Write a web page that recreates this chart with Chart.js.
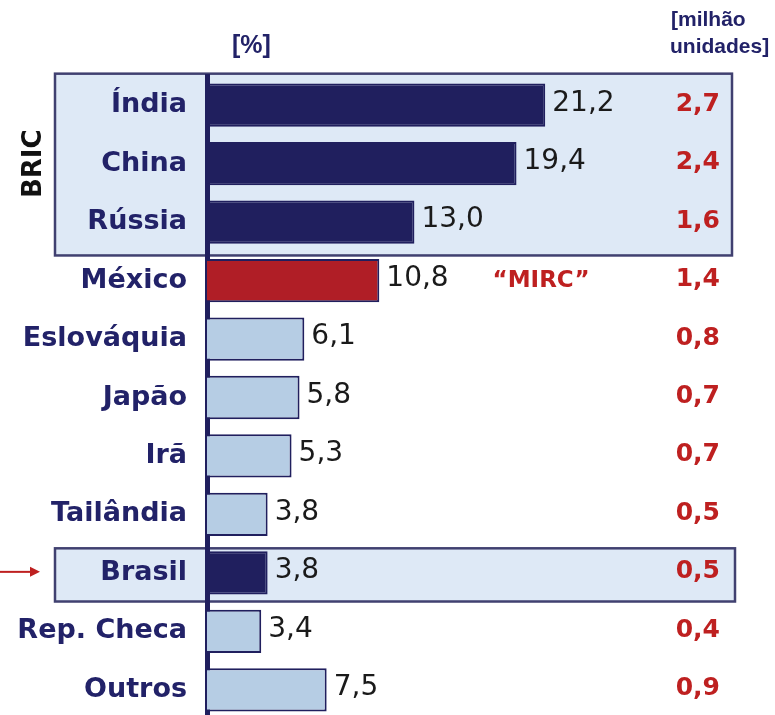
<!DOCTYPE html>
<html>
<head>
<meta charset="utf-8">
<script src="https://cdn.jsdelivr.net/npm/chart.js@4/dist/chart.umd.min.js"></script>
<style>
  html, body { margin: 0; background: #fff; overflow: hidden; }
  #wrap { position: relative; width: 775px; height: 715px; overflow: hidden; }
</style>
</head>
<body>
<div id="wrap"><canvas id="grafico" width="775" height="719"></canvas></div>
<script>
// dados
var paises = ['Índia', 'China', 'Rússia', 'México', 'Eslováquia', 'Japão', 'Irã', 'Tailândia', 'Brasil', 'Rep. Checa', 'Outros'];
var percentual = [21.2, 19.4, 13.0, 10.8, 6.1, 5.8, 5.3, 3.8, 3.8, 3.4, 7.5];
var milhoes = [2.7, 2.4, 1.6, 1.4, 0.8, 0.7, 0.7, 0.5, 0.5, 0.4, 0.9];

// cores
var navy = 'rgb(32,31,94)';
var txtNavy = 'rgb(34,34,104)';
var claro = 'rgb(182,205,228)';
var vermelho = 'rgb(176,30,38)';
var txtVermelho = 'rgb(190,32,32)';
var caixa = 'rgb(222,233,246)';
var bordaCaixa = 'rgb(64,64,112)';

var coresBarra = [navy, navy, navy, vermelho, claro, claro, claro, claro, navy, claro, claro];

function fmt(v) { return v.toFixed(1).replace('.', ','); }

var extras = {
  id: 'extras',
  beforeDraw: function (chart) {
    var ctx = chart.ctx;
    var y = chart.scales.y;
    var linha = y.getPixelForValue(1) - y.getPixelForValue(0);
    ctx.save();
    ctx.fillStyle = caixa;
    ctx.strokeStyle = bordaCaixa;
    ctx.lineWidth = 2.5;
    // caixa BRIC
    var t = y.getPixelForValue(0) - linha * 0.54;
    var b = y.getPixelForValue(2) + linha * 0.57;
    ctx.fillRect(55, t, 677, b - t);
    ctx.strokeRect(55, t, 677, b - t);
    // caixa Brasil
    t = y.getPixelForValue(8) - linha * 0.42;
    b = y.getPixelForValue(8) + linha * 0.49;
    ctx.fillRect(55, t, 680, b - t);
    ctx.strokeRect(55, t, 680, b - t);
    ctx.restore();
  },
  afterDatasetsDraw: function (chart) {
    var ctx = chart.ctx;
    var meta = chart.getDatasetMeta(0);
    var x = chart.scales.x;
    ctx.save();
    ctx.textBaseline = 'middle';
    meta.data.forEach(function (bar, i) {
      ctx.font = '28px "DejaVu Sans"';
      ctx.fillStyle = '#1a1a1a';
      ctx.textAlign = 'left';
      ctx.fillText(fmt(percentual[i]), bar.x + 7, bar.y - 2);
      ctx.font = 'bold 25px "DejaVu Sans"';
      ctx.fillStyle = txtVermelho;
      ctx.textAlign = 'right';
      ctx.fillText(fmt(milhoes[i]), 720, bar.y - 1);
    });
    // "MIRC"
    ctx.font = 'bold 23px "DejaVu Sans"';
    ctx.fillStyle = txtVermelho;
    ctx.textAlign = 'left';
    ctx.fillText('\u201CMIRC\u201D', x.getPixelForValue(17.9), meta.data[3].y);
    // cabeçalhos
    ctx.fillStyle = txtNavy;
    ctx.font = 'bold 25px "Liberation Sans"';
    ctx.fillText('[%]', 232, 46);
    ctx.font = 'bold 21px "Liberation Sans"';
    ctx.fillText('[milhão', 671, 20);
    ctx.fillText('unidades]', 670, 47);
    // BRIC vertical
    ctx.save();
    ctx.translate(34, meta.data[1].y);
    ctx.rotate(-Math.PI / 2);
    ctx.textAlign = 'center';
    ctx.fillStyle = '#111';
    ctx.font = 'bold 26px "DejaVu Sans"';
    ctx.fillText('BRIC', 0, 0);
    ctx.restore();
    // seta do Brasil
    var ys = meta.data[8].y - 1;
    ctx.strokeStyle = txtVermelho;
    ctx.fillStyle = txtVermelho;
    ctx.lineWidth = 2;
    ctx.beginPath();
    ctx.moveTo(0, ys);
    ctx.lineTo(32, ys);
    ctx.stroke();
    ctx.beginPath();
    ctx.moveTo(40, ys);
    ctx.lineTo(30, ys - 5);
    ctx.lineTo(30, ys + 5);
    ctx.closePath();
    ctx.fill();
    ctx.restore();
  }
};

new Chart(document.getElementById('grafico'), {
  type: 'bar',
  data: {
    labels: paises,
    datasets: [{
      data: percentual,
      backgroundColor: coresBarra,
      borderColor: navy,
      borderWidth: 2,
      borderSkipped: 'left',
      categoryPercentage: 1,
      barPercentage: 0.74
    }]
  },
  options: {
    indexAxis: 'y',
    responsive: false,
    animation: false,
    devicePixelRatio: 1,
    layout: { padding: { top: 76, bottom: 0, left: 0, right: 0 } },
    plugins: { legend: { display: false }, tooltip: { enabled: false } },
    scales: {
      x: { display: false, min: 0, max: 35.6 },
      y: {
        grid: { display: false },
        border: { display: true, color: navy, width: 5 },
        ticks: {
          z: 1,
          padding: 12,
          color: txtNavy,
          font: { family: 'DejaVu Sans', weight: 'bold', size: 27 }
        },
        afterFit: function (s) {
          s.width = 207;
          s.paddingTop = 0;
          s.paddingBottom = 0;
        }
      }
    }
  },
  plugins: [extras]
});
</script>
</body>
</html>
